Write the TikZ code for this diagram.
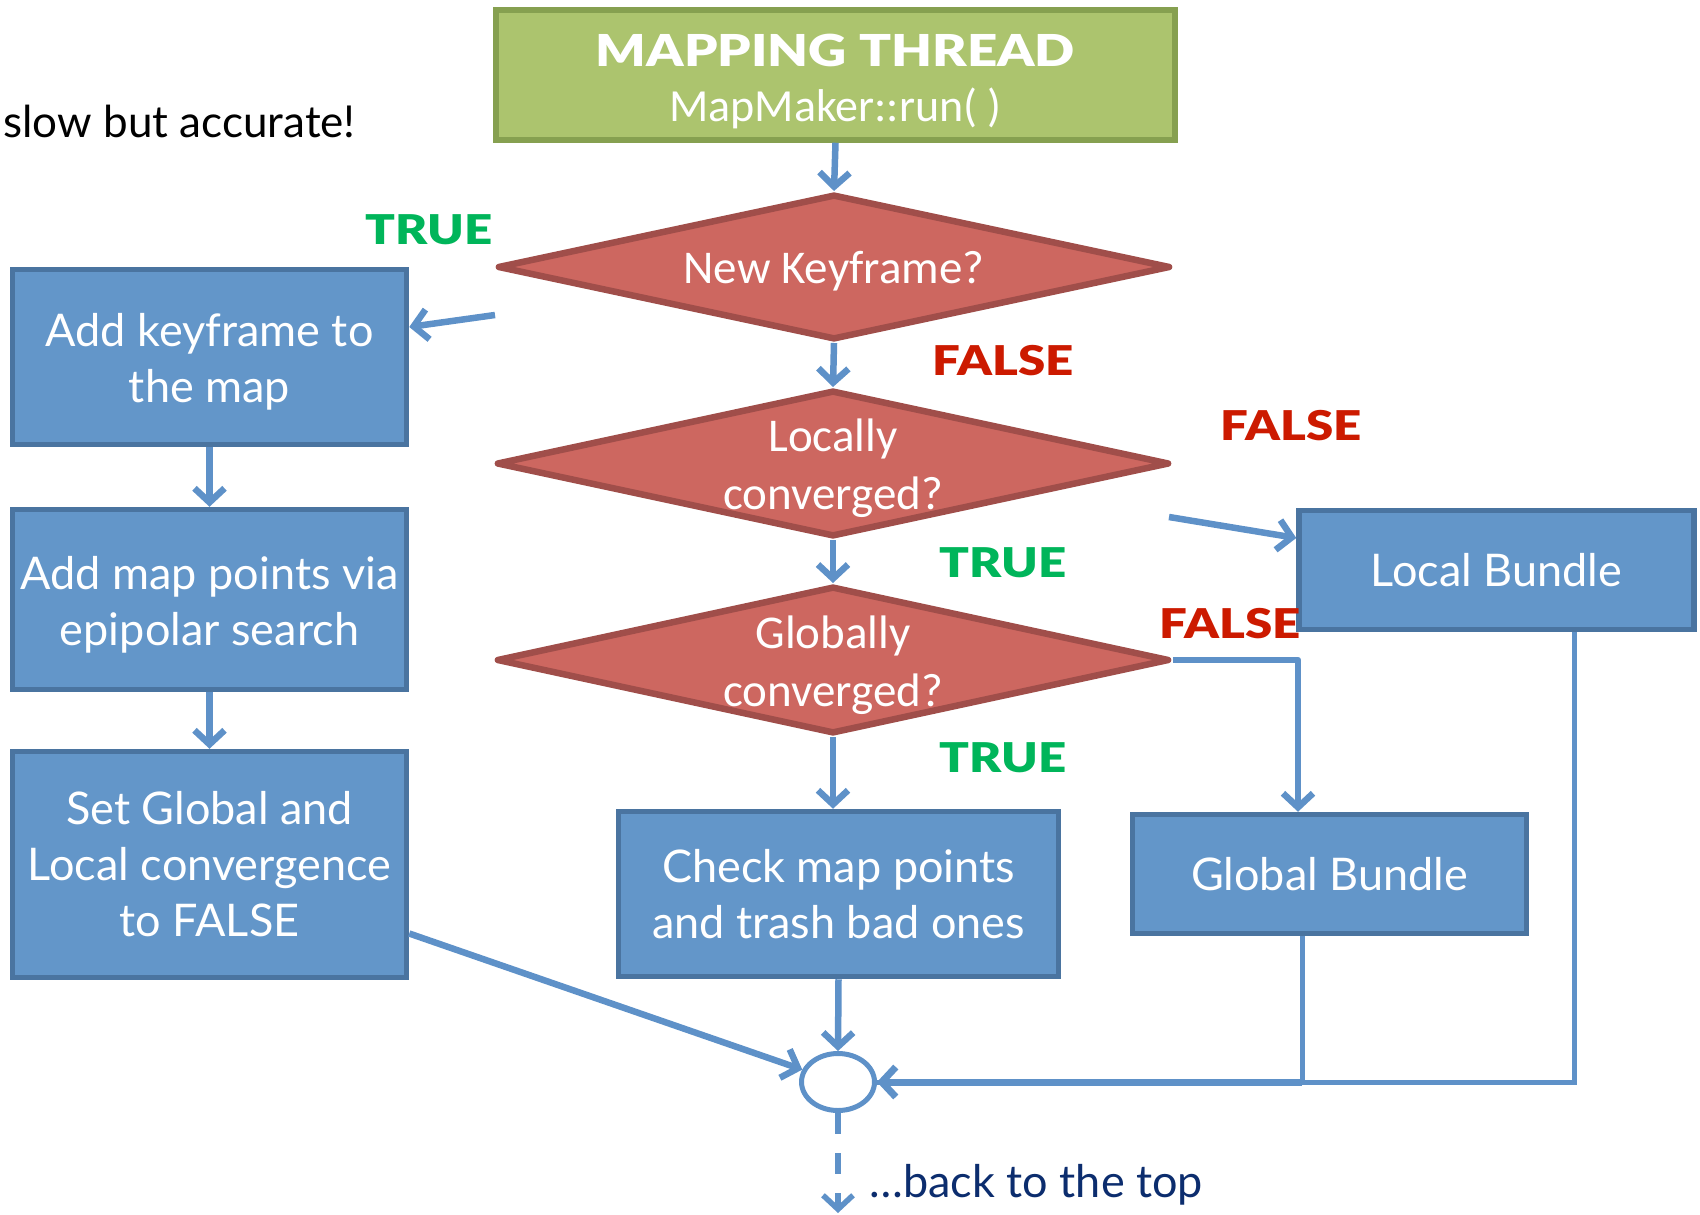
\documentclass[tikz,border=0pt]{standalone}
\usepackage{fontspec}
\setmainfont{Lato}
\newfontfamily\calib{Carlito}
\newfontfamily\heavy[FakeStretch=1.2]{Lato Black}
\usetikzlibrary{arrows.meta,shapes.geometric}

\definecolor{boxfill}{HTML}{6396C9}
\definecolor{boxline}{HTML}{4A74A0}
\definecolor{flowblue}{HTML}{5E91C8}
\definecolor{decfill}{HTML}{CD6760}
\definecolor{decline}{HTML}{A04E4A}
\definecolor{headfill}{HTML}{ACC46E}
\definecolor{headline}{HTML}{86A050}
\definecolor{truegreen}{HTML}{00B55A}
\definecolor{falsered}{HTML}{CC1A00}
\definecolor{navytext}{HTML}{0C2D6E}

\begin{document}
\begin{tikzpicture}[x=1pt,y=-1pt,
  procbox/.style={rectangle, draw=boxline, fill=boxfill, line width=5.5pt,
    text=white, inner sep=0pt, align=center, font=\fontsize{45}{56}\selectfont},
  boxtext/.style={text=white, inner sep=0pt, align=center, font=\fontsize{45}{56}\selectfont},
  decision/.style={diamond, draw=decline, fill=decfill, line width=6.5pt,
    line join=round, inner sep=0pt},
  qtext/.style={text=white, align=center, font=\calib\fontsize{47}{58}\selectfont},
  flow/.style={draw=flowblue, line width=6.5pt, -{Straight Barb[length=14pt,width=30pt]}},
  retline/.style={draw=flowblue, line width=5pt},
  truelbl/.style={text=truegreen, font=\heavy\fontsize{41}{41}\selectfont},
  falselbl/.style={text=falsered, font=\heavy\fontsize{41}{41}\selectfont},
]
\useasboundingbox (0,0) rectangle (1700,1215);

% title block
\node[rectangle, draw=headline, fill=headfill, line width=5.5pt,
  minimum width=679pt, minimum height=130pt, inner sep=0pt] (head) at (835.5,75) {};
\node[text=white, align=center, inner sep=0pt, font=\calib\fontsize{46}{55}\selectfont]
  (headt) at (835.5,82) {{\heavy\fontsize{44}{55}\selectfont MAPPING THREAD}\\MapMaker::run( )};

\node[anchor=base west, font=\fontsize{44}{44}\selectfont] (slow) at (0,137) {slow but accurate!};

% decisions
\node[decision, minimum width=673pt, minimum height=145.5pt] (d1) at (834,267) {};
\node[qtext, yshift=-4pt] (d1t) at (d1) {New Keyframe?};
\node[decision, minimum width=673pt, minimum height=146.5pt] (d2) at (833,463.5) {};
\node[qtext, yshift=-5pt] (d2t) at (d2) {Locally\\converged?};
\node[decision, minimum width=673pt, minimum height=147.5pt] (d3) at (833,660) {};
\node[qtext, yshift=-5pt] (d3t) at (d3) {Globally\\converged?};

% process boxes
\node[procbox, minimum width=394pt, minimum height=175pt] (b1) at (209.5,357) {};
\node[boxtext] (b1t) at (209.5,362) {Add keyframe to\\the map};
\node[procbox, minimum width=394pt, minimum height=180pt] (b2) at (209.5,599.5) {};
\node[boxtext] (b2t) at (209.5,604.5) {Add map points via\\epipolar search};
\node[procbox, minimum width=394pt, minimum height=226pt] (b3) at (209.5,864.5) {Set Global and\\Local convergence\\to FALSE};
\node[procbox, minimum width=440pt, minimum height=165pt] (chk) at (838.5,894) {Check map points\\and trash bad ones};
\node[procbox, minimum width=394pt, minimum height=119pt] (gb) at (1329.5,874) {Global Bundle};
\node[procbox, minimum width=395pt, minimum height=119pt] (lb) at (1496.5,570) {Local Bundle};

% junction
\node[ellipse, draw=flowblue, fill=white, line width=5pt, minimum width=73pt,
  minimum height=57pt, inner sep=0pt] (circ) at (838,1082) {};

% branch labels
\node[truelbl] (t1) at (429,230) {TRUE};
\node[falselbl] (f1) at (1003,361) {FALSE};
\node[falselbl] (f2) at (1291,426) {FALSE};
\node[truelbl] (t2) at (1003,563) {TRUE};
\node[falselbl] (f3) at (1230,624) {FALSE};
\node[truelbl] (t3) at (1003,758) {TRUE};

% main column
\draw[flow] (head.south) -- (d1.north);
\draw[flow] (d1.south) -- (d2.north);
\draw[flow] (d2.south) -- (d3.north);
\draw[flow] (d3.south) -- (d3.south |- chk.north);
\draw[flow] (chk.south) -- (circ.north);

% new keyframe branch
\coordinate (kfout) at (495,315);
\draw[flow] (kfout) -- ([yshift=30pt]b1.east);
\draw[flow] (b1.south) -- (b2.north);
\draw[flow] (b2.south) -- (b3.north);
\draw[flow] ([yshift=-69pt]b3.east) -- (circ);

% bundle branches
\coordinate (lcout) at (1169,517);
\draw[flow] (lcout) -- ([yshift=32pt]lb.west);
\draw[flow, line join=round] (d3.east) -| ([xshift=-31.5pt]gb.north);

% return lines
\draw[retline] ([xshift=78pt]lb.south) |- (circ.east);
\draw[retline] ([xshift=-27.5pt]gb.south) -- ([xshift=-27.5pt]gb.south |- circ.east);
\coordinate (jn) at ([xshift=-27.5pt]gb.south |- circ.east);
\draw[flow, line width=7pt] (jn) -- (circ.east);

% loop back
\coordinate (loopend) at (838,1213);
\draw[flow, line width=5.5pt, dash pattern=on 21pt off 19pt] (circ.south) -- (loopend);
\node[anchor=base west, text=navytext, font=\fontsize{45}{45}\selectfont] (backtop) at (866,1197) {…back to the top};
\end{tikzpicture}
\end{document}
